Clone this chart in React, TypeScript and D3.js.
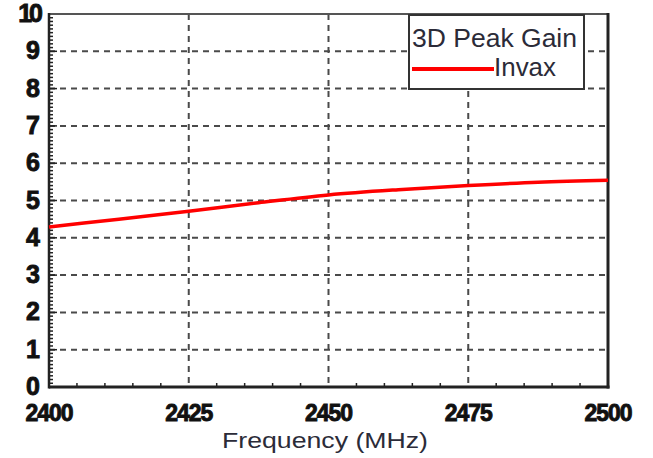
import React from "react";
import * as d3 from "d3";

const freqs = [2400, 2412.5, 2425, 2437.5, 2450, 2462.5, 2475, 2487.5, 2500];
const gain = [4.29, 4.5, 4.71, 4.94, 5.15, 5.29, 5.4, 5.49, 5.54];
const xTicks = [2400, 2425, 2450, 2475, 2500];
const yTicks = [0, 1, 2, 3, 4, 5, 6, 7, 8, 9, 10];
const legendTitle = "3D Peak Gain";
const seriesName = "Invax";
const xTitle = "Frequency (MHz)";

const W = 653, H = 458;
const L = 49, R = 608, T = 14, B = 387;

export default function App() {
  const x = d3.scaleLinear().domain([2400, 2500]).range([L, R]);
  const y = d3.scaleLinear().domain([0, 10]).range([B, T]);
  const line = d3
    .line<number>()
    .x((_, i) => x(freqs[i]))
    .y((d) => y(d))
    .curve(d3.curveMonotoneX);
  const xMinor = d3.range(2400, 2500, 5).filter((v) => v % 25 !== 0);
  const yMinor = d3.range(0, 100).map((v) => v / 10).filter((v, i) => i % 10 !== 0);
  const font = "'Liberation Sans', Arial, sans-serif";
  const grid = "#4a4a4a";
  return (
    <svg
      width={W}
      height={H}
      style={{ position: "absolute", left: 0, top: 0, background: "#fff" }}
      fontFamily={font}
    >
      {/* grid */}
      {yTicks.slice(1, -1).map((t) => (
        <line key={"gy" + t} x1={L} x2={R} y1={y(t)} y2={y(t)} stroke={grid} strokeWidth={2} strokeDasharray="6 5" />
      ))}
      {xTicks.slice(1, -1).map((t) => (
        <line key={"gx" + t} x1={x(t)} x2={x(t)} y1={T} y2={B} stroke={grid} strokeWidth={2} strokeDasharray="6 5" />
      ))}
      {/* minor ticks */}
      {xMinor.map((t) => (
        <line key={"mx" + t} x1={x(t)} x2={x(t)} y1={B} y2={B - 4} stroke="#222" strokeWidth={1.5} />
      ))}
      {yMinor.map((t) => (
        <line key={"my" + t} x1={L} x2={L + 4} y1={y(t)} y2={y(t)} stroke="#222" strokeWidth={1.5} />
      ))}
      {yTicks.map((t) => (
        <line key={"My" + t} x1={L} x2={L + 8} y1={y(t)} y2={y(t)} stroke="#222" strokeWidth={1.5} />
      ))}
      {/* frame */}
      <line x1={L} x2={R} y1={T} y2={T} stroke="#555" strokeWidth={2} />
      <line x1={R} x2={R} y1={T - 1} y2={B + 1.5} stroke="#222" strokeWidth={3} />
      <line x1={L} x2={L} y1={T - 1} y2={B + 1.5} stroke="#222" strokeWidth={2.5} />
      <line x1={L} x2={R + 1.5} y1={B} y2={B} stroke="#222" strokeWidth={3} />
      {/* series */}
      <path d={line(gain) || ""} fill="none" stroke="#ff0000" strokeWidth={3.5} />
      {/* y labels */}
      {yTicks.map((t) => (
        <text
          key={"ly" + t}
          x={40}
          y={y(t) - 1}
          dy="0.36em"
          textAnchor="end"
          fontSize={25}
          fontWeight="bold"
          fill="#111"
          stroke="#111"
          strokeWidth={0.9}
          letterSpacing={t === 10 ? -3 : 0}
        >
          {t}
        </text>
      ))}
      {/* x labels */}
      {xTicks.map((t) => (
        <text
          key={"lx" + t}
          x={x(t)}
          y={421}
          textAnchor="middle"
          fontSize={23}
          fontWeight="bold"
          fill="#111"
          stroke="#111"
          strokeWidth={0.9}
          letterSpacing={-1}
        >
          {t}
        </text>
      ))}
      <text x={325} y={448} textAnchor="middle" fontSize={22} fill="#2b2b38" textLength={206} lengthAdjust="spacingAndGlyphs">
        {xTitle}
      </text>
      {/* legend */}
      <rect x={409} y={15} width={175} height={74} fill="#fff" stroke="#333" strokeWidth={2} />
      <text x={412} y={47} fontSize={25} fill="#2b2b38" textLength={165} lengthAdjust="spacingAndGlyphs">
        {legendTitle}
      </text>
      <line x1={412} x2={494} y1={69} y2={69} stroke="#ff0000" strokeWidth={4} />
      <text x={494} y={76} fontSize={25} fill="#2b2b38" textLength={62} lengthAdjust="spacingAndGlyphs">
        {seriesName}
      </text>
    </svg>
  );
}
